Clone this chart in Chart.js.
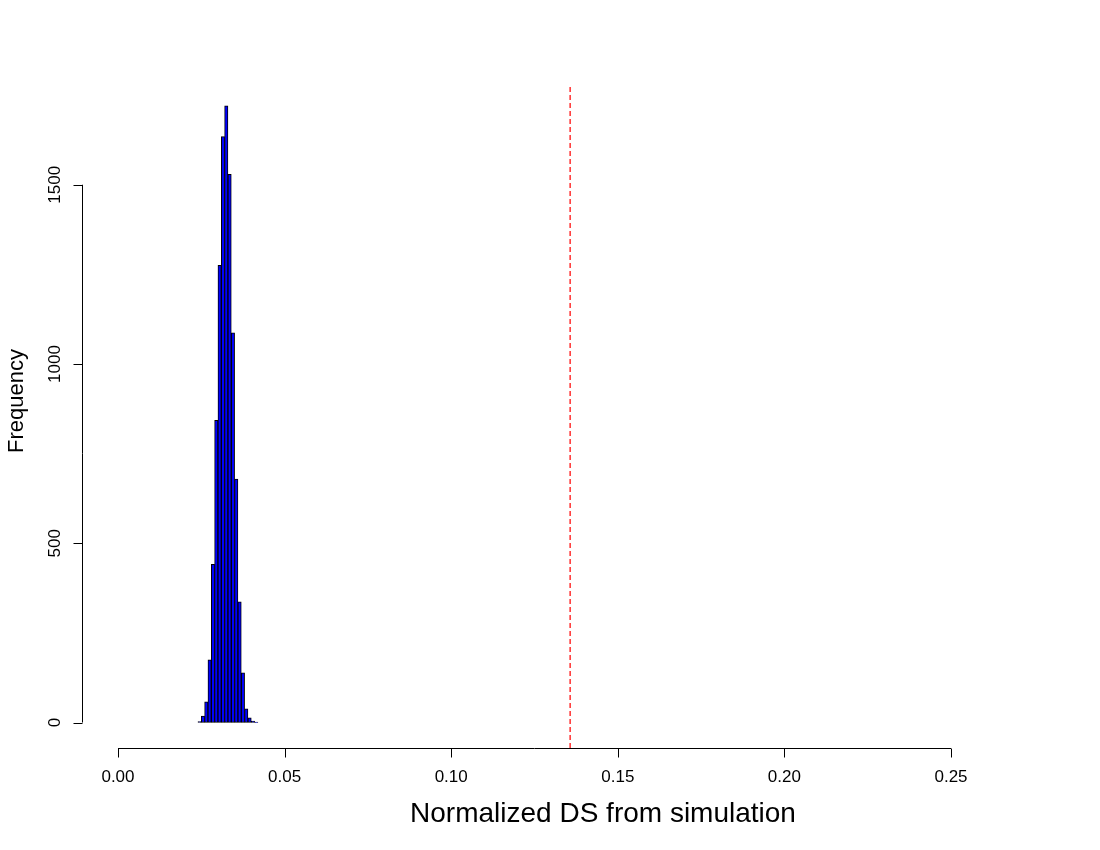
<!DOCTYPE html>
<html>
<head>
<meta charset="utf-8">
<script src="https://cdn.jsdelivr.net/npm/chart.js@4.4.0/dist/chart.umd.min.js"></script>
<style>
  html, body { margin: 0; padding: 0; background: #fff; }
  #wrap { width: 1100px; height: 850px; }
</style>
</head>
<body>
<div id="wrap"><canvas id="hist"></canvas></div>
<script>
// histogram of normalized DS from simulation
// =============================================================

const binLeft = [0.024, 0.025, 0.026, 0.027, 0.028, 0.029, 0.030, 0.031, 0.032,
  0.033, 0.034, 0.035, 0.036, 0.037, 0.038, 0.039, 0.040, 0.041]
const counts = [3, 18, 58, 175, 441, 843, 1275, 1634, 1720,
  1529, 1087, 679, 337, 139, 38, 13, 4, 1]
const binWidth = 0.001
const observed = 0.1357

const xTicks = [0, 0.05, 0.10, 0.15, 0.20, 0.25]
const xTickLabels = ['0.00', '0.05', '0.10', '0.15', '0.20', '0.25']
const yTicks = [0, 500, 1000, 1500]

const xTitle = 'Normalized DS from simulation'
const yTitle = 'Frequency'

const FONT = '"Liberation Sans", Arial, Helvetica, sans-serif'

// R-style axes: lines only across the tick range
const rAxes = {
  id: 'rAxes',
  afterDraw (chart) {
    const { ctx, chartArea, scales: { x, y } } = chart
    const tick = 9
    ctx.save()
    ctx.strokeStyle = '#000'
    ctx.lineWidth = 1
    ctx.fillStyle = '#000'

    // x axis
    const yb = Math.round(chartArea.bottom) + 0.5
    ctx.beginPath()
    ctx.moveTo(x.getPixelForValue(xTicks[0]), yb)
    ctx.lineTo(x.getPixelForValue(xTicks[xTicks.length - 1]), yb)
    xTicks.forEach(v => {
      const px = Math.round(x.getPixelForValue(v)) + 0.5
      ctx.moveTo(px, yb)
      ctx.lineTo(px, yb + tick)
    })
    ctx.stroke()
    ctx.font = '17px ' + FONT
    ctx.textAlign = 'center'
    ctx.textBaseline = 'middle'
    xTicks.forEach((v, i) => {
      ctx.fillText(xTickLabels[i], x.getPixelForValue(v), yb + 29)
    })

    // y axis
    const xl = Math.round(chartArea.left) + 0.5
    ctx.beginPath()
    ctx.moveTo(xl, y.getPixelForValue(yTicks[0]))
    ctx.lineTo(xl, y.getPixelForValue(yTicks[yTicks.length - 1]))
    yTicks.forEach(v => {
      const py = Math.round(y.getPixelForValue(v)) + 0.5
      ctx.moveTo(xl, py)
      ctx.lineTo(xl - tick, py)
    })
    ctx.stroke()
    yTicks.forEach(v => {
      ctx.save()
      ctx.translate(xl - 27, y.getPixelForValue(v))
      ctx.rotate(-Math.PI / 2)
      ctx.fillText(String(v), 0, 0)
      ctx.restore()
    })

    // titles
    ctx.font = '28px ' + FONT
    ctx.fillText(xTitle, 603, 814)
    ctx.save()
    ctx.font = '22px ' + FONT
    ctx.translate(17, (chartArea.top + chartArea.bottom) / 2 - 15)
    ctx.rotate(-Math.PI / 2)
    ctx.fillText(yTitle, 0, 0)
    ctx.restore()

    ctx.restore()
  }
}

const histData = binLeft.map((l, i) => ({ x: l + binWidth / 2, y: counts[i] }))

new Chart(document.getElementById('hist'), {
  type: 'bar',
  data: {
    datasets: [{
      label: 'Frequency',
      data: histData,
      backgroundColor: '#0000FF',
      borderColor: '#000000',
      borderWidth: 1,
      borderSkipped: false,
      barPercentage: 1.0,
      categoryPercentage: 1.0,
      grouped: false,
      order: 2
    }, {
      type: 'line',
      label: 'observed',
      data: [{ x: observed, y: -71 }, { x: observed, y: 1788 }],
      borderColor: '#FF3030',
      borderWidth: 1.5,
      borderDash: [5, 3],
      pointRadius: 0,
      fill: false,
      order: 1
    }]
  },
  options: {
    responsive: true,
    maintainAspectRatio: false,
    animation: false,
    layout: { padding: { left: 82, right: 113, top: 84, bottom: 102 } },
    plugins: {
      legend: { display: false },
      tooltip: { enabled: false }
    },
    scales: {
      x: { type: 'linear', min: -0.0108, max: 0.2608, display: false, offset: false },
      y: { type: 'linear', min: -71, max: 1781, display: false, clip: false }
    }
  },
  plugins: [rAxes]
})
</script>
</body>
</html>
